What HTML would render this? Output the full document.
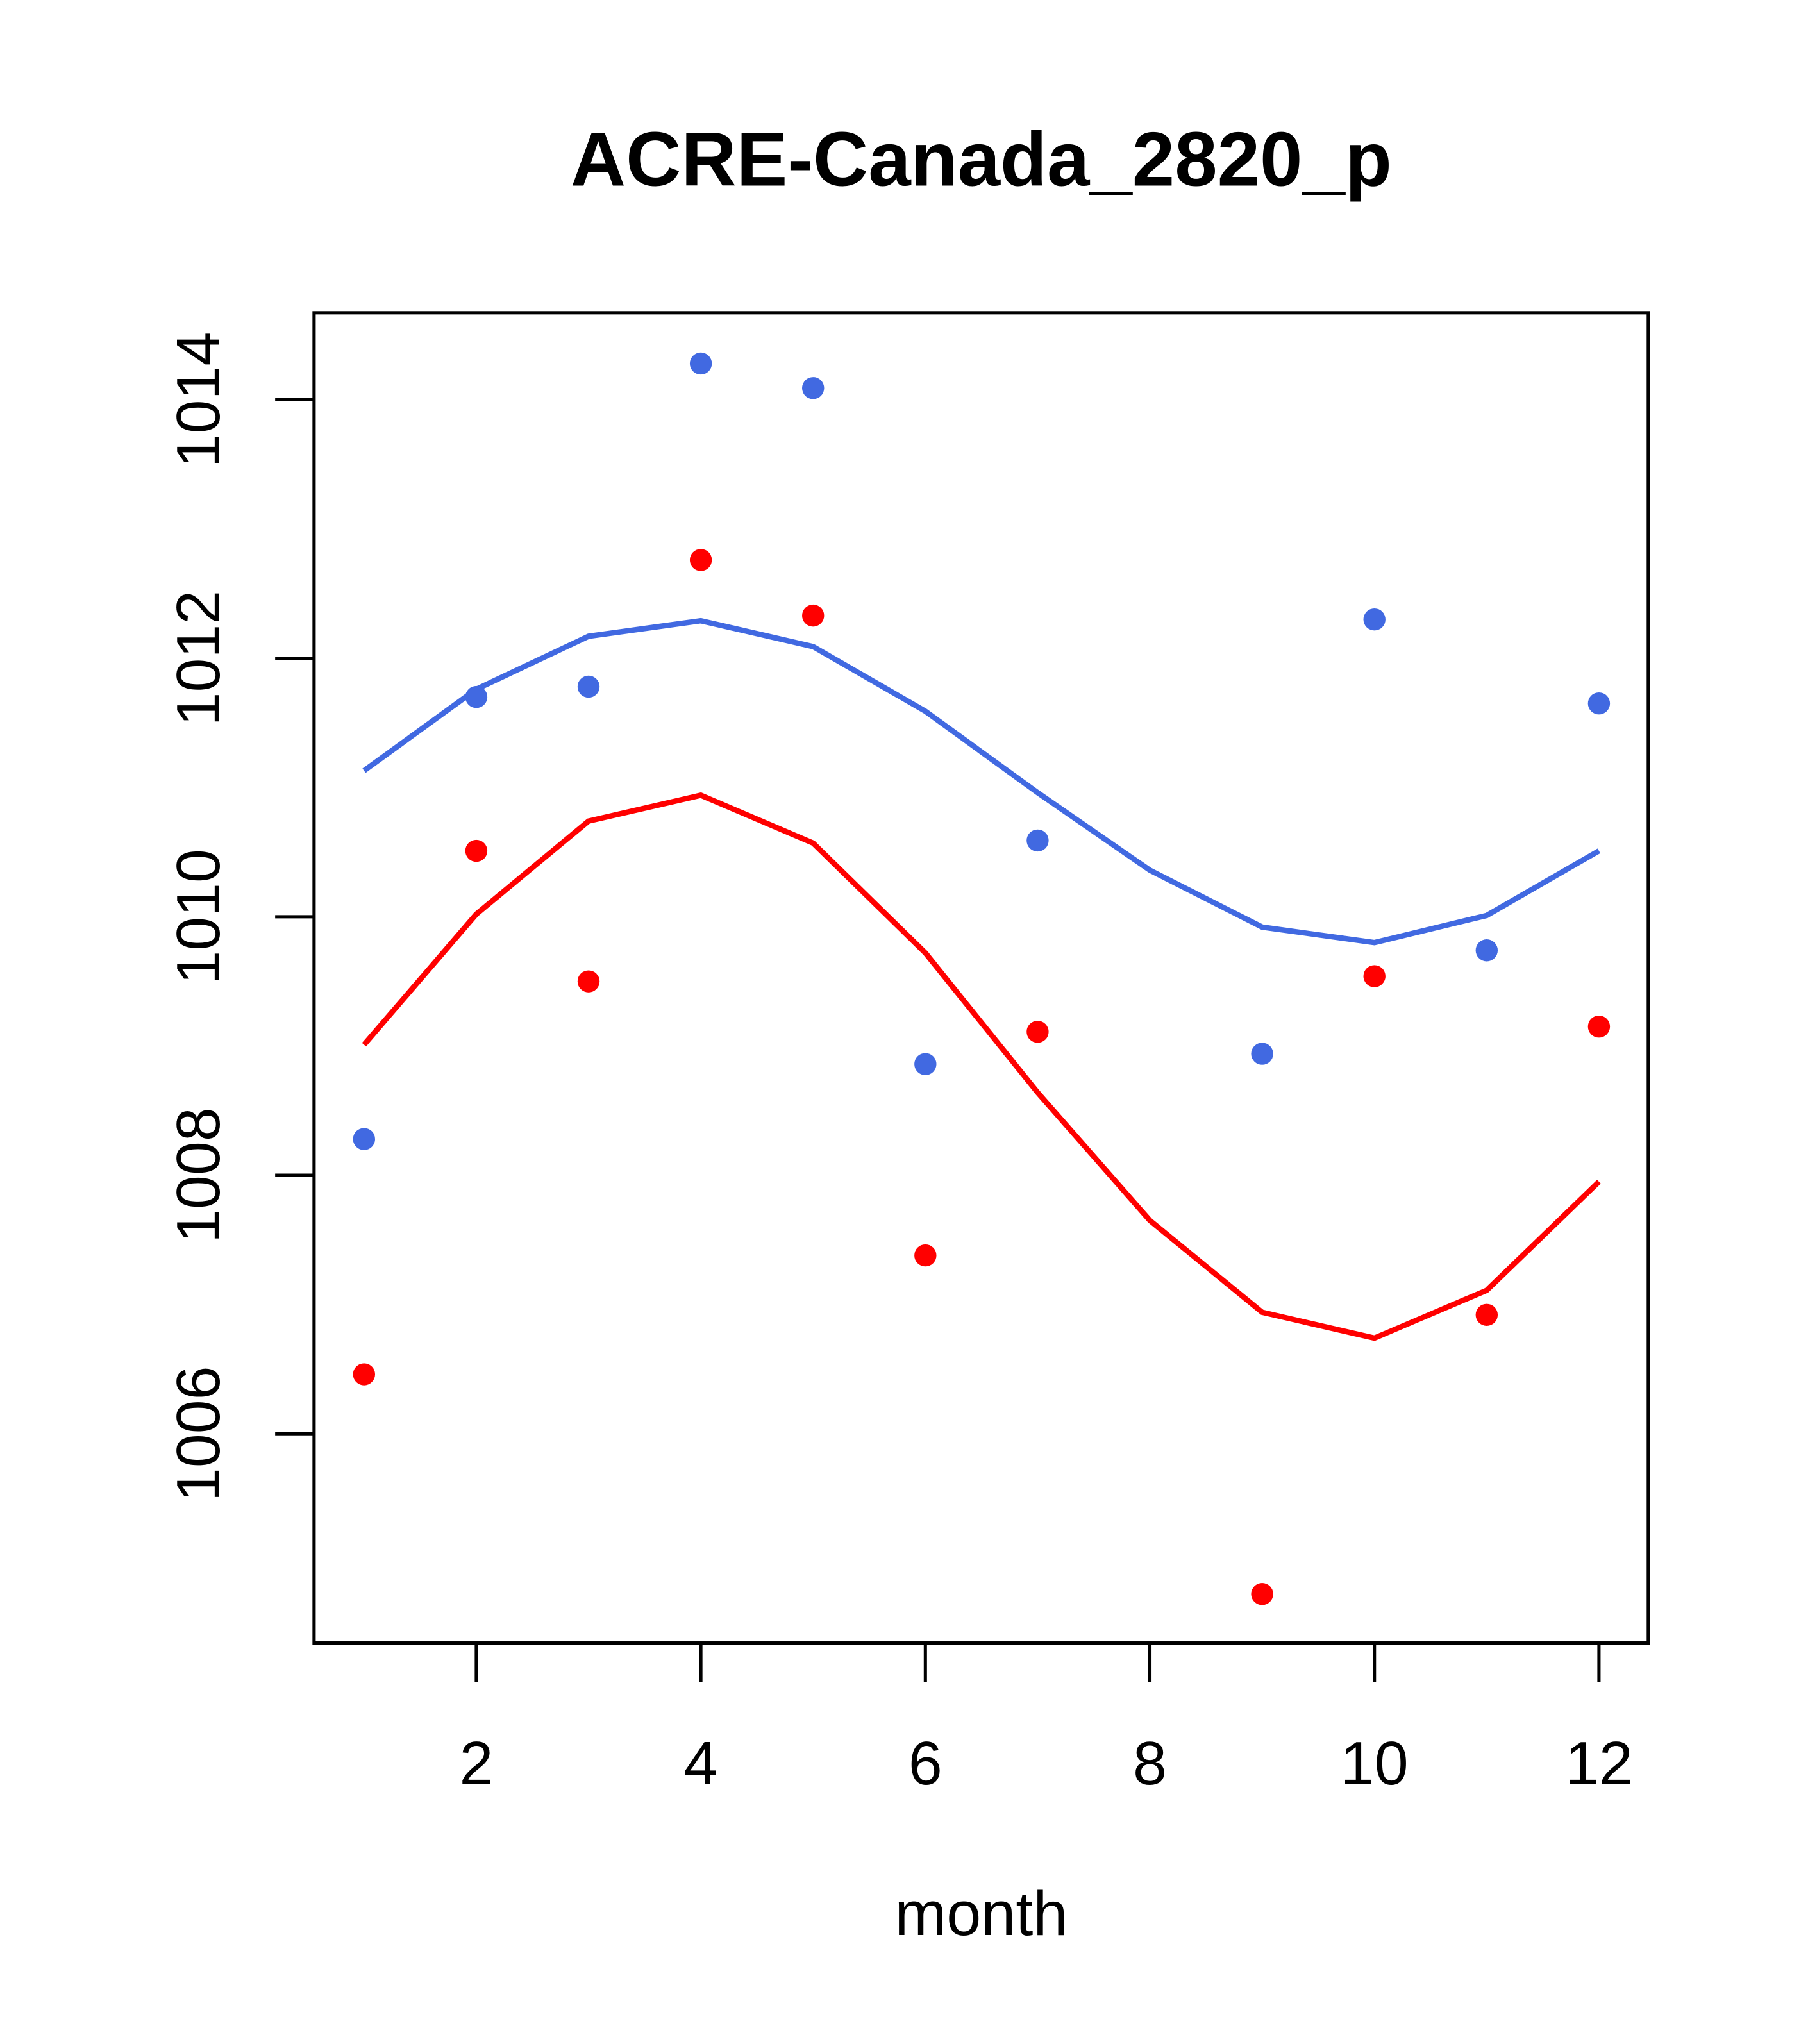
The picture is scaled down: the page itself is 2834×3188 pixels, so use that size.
<!DOCTYPE html>
<html><head><meta charset="utf-8"><style>html,body{margin:0;padding:0;background:#fff}svg{display:block}</style></head>
<body>
<svg id="chart" width="2834" height="3188" viewBox="0 0 1400 1575" preserveAspectRatio="none" xmlns="http://www.w3.org/2000/svg" font-family="Liberation Sans, sans-serif">
<rect x="0" y="0" width="1400" height="1575" fill="#fff"/>
<text x="756" y="143" font-size="59" font-weight="bold" text-anchor="middle">ACRE-Canada_2820_p</text>
<rect x="242" y="241" width="1028" height="1025" fill="none" stroke="#000" stroke-width="2.5"/>
<g id="xaxis"></g>
<g id="yaxis"></g>
<text x="756" y="1491" font-size="48" text-anchor="middle">month</text>
<g id="series"></g>
</svg>
<script>
const months = [1,2,3,4,5,6,7,8,9,10,11,12];
const bluePoints = [1008.28,1011.70,1011.78,1014.28,1014.09,1008.86,1010.59,null,1008.94,1012.30,1009.74,1011.65];
const blueLine = [1011.13,1011.76,1012.17,1012.29,1012.09,1011.59,1010.96,1010.36,1009.92,1009.80,1010.01,1010.51];
const redPoints = [1006.46,1010.51,1009.50,1012.76,1012.33,1007.38,1009.11,null,1004.76,1009.54,1006.92,1009.15];
const redLine = [1009.01,1010.02,1010.74,1010.94,1010.57,1009.72,1008.64,1007.65,1006.94,1006.74,1007.11,1007.95];
const xTicks = [2,4,6,8,10,12];
const yTicks = [1006,1008,1010,1012,1014];

const NS = "http://www.w3.org/2000/svg";
function xs(m){ return 367 + (m-2)*86.5; }
function ys(v){ return 308 + (1014 - v)*99.6; }
function mk(tag, attrs, parent){ const e=document.createElementNS(NS,tag); for(const k in attrs) e.setAttribute(k,attrs[k]); parent.appendChild(e); return e; }

const xa=document.getElementById('xaxis');
for(const t of xTicks){
  const l=mk('line',{x1:xs(t),x2:xs(t),y1:1266,y2:1296,stroke:'#000','stroke-width':2.5},xa);
  
  
  const tx=mk('text',{x:xs(t),y:1375,'font-size':47,'text-anchor':'middle'},xa);
  tx.textContent=t;
  
  
}
const ya=document.getElementById('yaxis');
for(const t of yTicks){
  const l=mk('line',{x1:212,x2:242,y1:ys(t),y2:ys(t),stroke:'#000','stroke-width':2.5},ya);
  
  
  const tx=mk('text',{x:0,y:0,'font-size':47,'text-anchor':'middle',transform:`translate(169,${ys(t)}) rotate(-90)`},ya);
  tx.textContent=t;
  
  
}
const sg=document.getElementById('series');
function line(vals,color,name){
  const p=mk('polyline',{points:vals.map((v,i)=>xs(months[i])+','+ys(v)).join(' '),fill:'none',stroke:color,'stroke-width':4.2},sg);
  
  
}
function pts(vals,color,name){
  vals.forEach((v,i)=>{ if(v===null) return;
    const c=mk('circle',{cx:xs(months[i]),cy:ys(v),r:8.5,fill:color},sg);
    
    
  });
}
line(blueLine,'#4169E1','blue-line');
line(redLine,'#FF0000','red-line');
pts(bluePoints,'#4169E1','blue-point');
pts(redPoints,'#FF0000','red-point');
</script>
</body></html>
